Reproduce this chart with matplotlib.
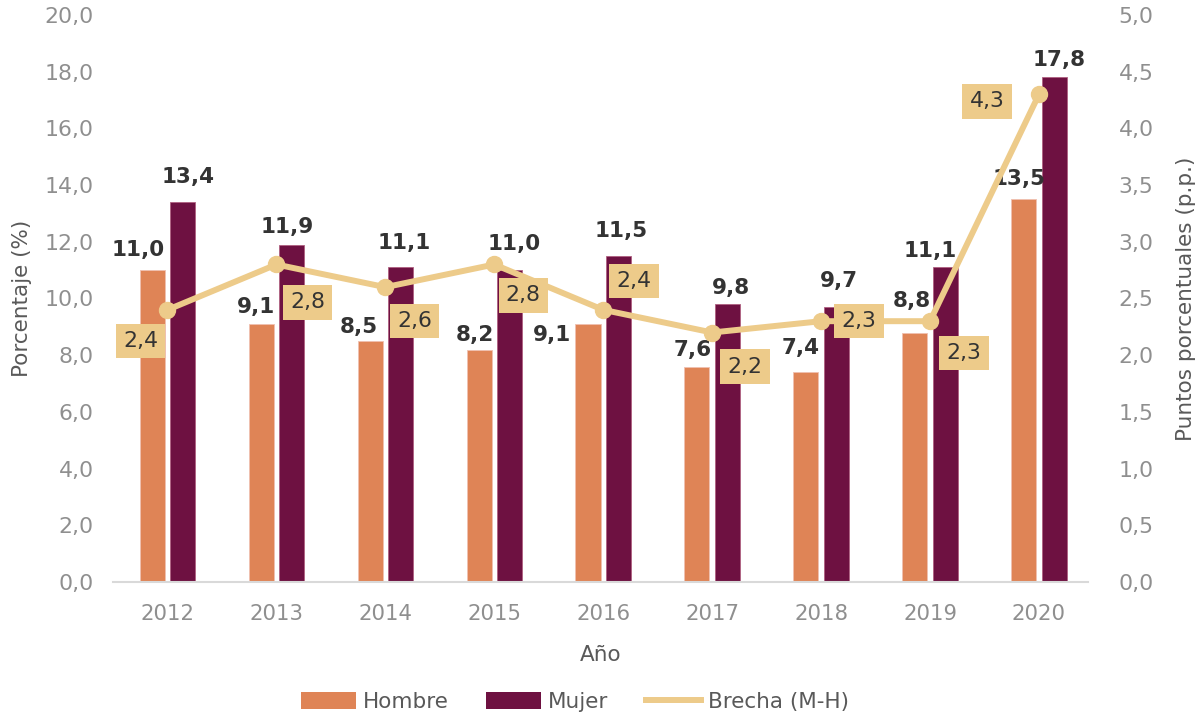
import matplotlib
matplotlib.use("Agg")
import matplotlib.pyplot as plt
from matplotlib.patches import Patch
from matplotlib.lines import Line2D
import numpy as np

plt.rcParams['font.family'] = ['DejaVu Sans']

years = ["2012", "2013", "2014", "2015", "2016", "2017", "2018", "2019", "2020"]
hombre = [11.0, 9.1, 8.5, 8.2, 9.1, 7.6, 7.4, 8.8, 13.5]
mujer = [13.4, 11.9, 11.1, 11.0, 11.5, 9.8, 9.7, 11.1, 17.8]
brecha = [2.4, 2.8, 2.6, 2.8, 2.4, 2.2, 2.3, 2.3, 4.3]

c_h = "#DF8456"
c_m = "#6E1141"
c_b = "#EDCB8A"
c_txt = "#333333"
c_tick = "#8F8F8F"
c_lab = "#595959"

# label offsets (pixels) relative to bar top / point
off_h = [(-14, 20), (-5, 17), (-11, 14), (-4, 15), (-36, -11), (-4, 17), (-5, 24), (-3, 32), (-5, 20)]
off_m = [(5, 25), (-4, 18), (4, 24), (5, 26), (3, 25), (4, 16), (3, 26), (-15, 16), (5, 17)]
off_b = [(-27, -31), (31, -38), (29, -34), (29, -31), (31, 29), (33, -34), (38, 0), (34, -32), (-52, -7)]

fig = plt.figure(figsize=(12.03, 7.17), dpi=100)
ax = fig.add_axes([113/1203, 1-582/717, (1088-113)/1203, (582-15)/717])
ax2 = ax.twinx()

x = np.arange(len(years))
w = 0.23
d = 0.14
ax.bar(x - d, hombre, width=w, color=c_h, edgecolor="#F0C0B0", linewidth=0.6, zorder=2)
ax.bar(x + d, mujer, width=w, color=c_m, edgecolor="#B06080", linewidth=0.6, zorder=2)

ax.set_ylim(0, 20)
ax.set_xlim(-0.5, 8.45)
ax.set_yticks(np.arange(0, 20.1, 2))
ax.set_yticklabels([f"{v:.1f}".replace(".", ",") for v in np.arange(0, 20.1, 2)])
ax.set_xticks(x)
ax.set_xticklabels(years)
ax2.set_ylim(0, 5)
ax2.set_yticks(np.arange(0, 5.01, 0.5))
ax2.set_yticklabels([f"{v:.1f}".replace(".", ",") for v in np.arange(0, 5.01, 0.5)])

for a in (ax, ax2):
    for s in a.spines.values():
        s.set_visible(False)
ax.spines['bottom'].set_visible(True)
ax.spines['bottom'].set_color("#D9D9D9")
ax.spines['bottom'].set_linewidth(1.5)
ax.tick_params(axis='y', length=0, labelsize=15.8, labelcolor=c_tick, pad=14)
ax.tick_params(axis='x', length=0, labelsize=15.3, labelcolor=c_tick, pad=16)
ax2.tick_params(axis='y', length=0, labelsize=15.8, labelcolor=c_tick, pad=22)

ax.set_xlabel("Año", fontsize=15.5, color=c_lab, labelpad=15)
ax.set_ylabel("Porcentaje (%)", fontsize=15.5, color=c_lab, labelpad=9)
ax2.set_ylabel("Puntos porcentuales (p.p.)", fontsize=15.5, color=c_lab, labelpad=16)

ax2.plot(x, brecha, color=c_b, lw=4.3, marker='o', ms=11.5, zorder=3)

k = 0.72
for i in range(len(years)):
    ax.annotate(f"{hombre[i]:.1f}".replace(".", ","), (x[i] - d, hombre[i]),
                xytext=(off_h[i][0]*k, off_h[i][1]*k), textcoords="offset points",
                ha="center", va="center", fontsize=15.5, fontweight="bold", color=c_txt, zorder=5)
    ax.annotate(f"{mujer[i]:.1f}".replace(".", ","), (x[i] + d, mujer[i]),
                xytext=(off_m[i][0]*k, off_m[i][1]*k), textcoords="offset points",
                ha="center", va="center", fontsize=15.5, fontweight="bold", color=c_txt, zorder=5)
    ax2.annotate(f"{brecha[i]:.1f}".replace(".", ","), (x[i], brecha[i]),
                 xytext=(off_b[i][0]*k, off_b[i][1]*k), textcoords="offset points",
                 ha="center", va="center", fontsize=15.8, color=c_txt, zorder=6,
                 bbox=dict(boxstyle="square,pad=0.33", fc=c_b, ec="none"))

handles = [Patch(facecolor=c_h, edgecolor='none'), Patch(facecolor=c_m, edgecolor='none'),
           Line2D([0], [0], color=c_b, lw=4.3)]
leg = fig.legend(handles, ["Hombre", "Mujer", "Brecha (M-H)"], loc="center",
                 bbox_to_anchor=(575/1203, 1-702/717), ncol=3, frameon=False,
                 fontsize=15.5, handlelength=2.55, handleheight=0.8, columnspacing=1.75,
                 handletextpad=0.33)
for t in leg.get_texts():
    t.set_color(c_lab)

fig.savefig("out.png", dpi=100)
